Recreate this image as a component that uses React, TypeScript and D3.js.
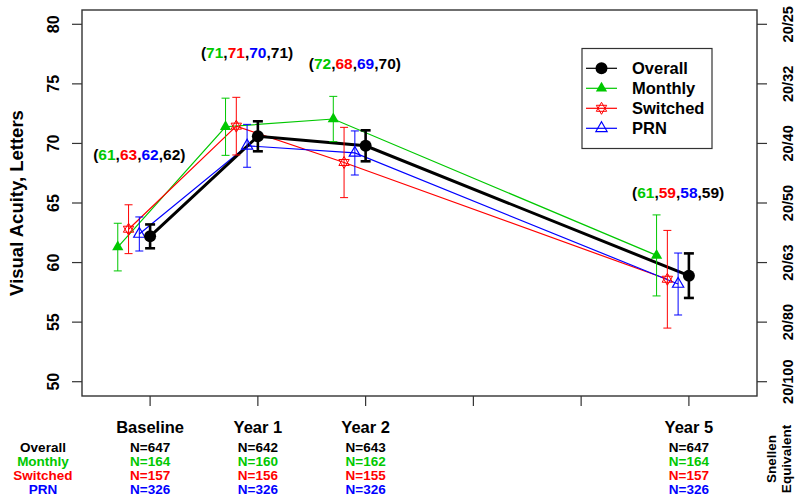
import * as d3 from 'd3';

const W = 800;
const H = 501;
const FONT = '"Liberation Sans", Arial, Helvetica, sans-serif';

// plot box in page pixels
const BOX = { left: 82, right: 757, top: 10, bottom: 396 };

// ---- data ----
const timePoints = [0, 1, 2, 5];
const timeLabels = ['Baseline', 'Year 1', 'Year 2', 'Year 5'];
const xTicks = [0, 1, 2, 3, 4, 5];
const yTicks = [50, 55, 60, 65, 70, 75, 80];
const snellenLabels = ['20/100', '20/80', '20/63', '20/50', '20/40', '20/32', '20/25'];

const groupNames = ['Overall', 'Monthly', 'Switched', 'PRN'];

const overallMean = [62.2, 70.6, 69.8, 58.9];
const overallErr = [1.0, 1.26, 1.3, 1.87];
const monthlyMean = [61.3, 71.4, 72.05, 60.6];
const monthlyErr = [2.0, 2.4, 1.9, 3.4];
const switchedMean = [62.8, 71.45, 68.4, 58.6];
const switchedErr = [2.05, 2.42, 2.95, 4.1];
const prnMean = [62.4, 69.8, 69.2, 58.2];
const prnErr = [1.43, 1.8, 1.85, 2.6];

const overallN = [647, 642, 643, 647];
const monthlyN = [164, 160, 162, 164];
const switchedN = [157, 156, 155, 157];
const prnN = [326, 326, 326, 326];

// height (in letters) of the "(m,s,p,o)" label above each time point
const annotLevel = [69.1, 77.6, 76.7, 65.9];

// ---- styling per group ----
const colors = { Overall: '#000000', Monthly: '#00C800', Switched: '#FF0000', PRN: '#0000FF' };
const dodge = { Overall: 0, Monthly: -0.3, Switched: -0.2, PRN: -0.1 };

type Series = { name: string; mean: number[]; err: number[]; n: number[] };
const series: Series[] = [
  { name: 'Overall', mean: overallMean, err: overallErr, n: overallN },
  { name: 'Monthly', mean: monthlyMean, err: monthlyErr, n: monthlyN },
  { name: 'Switched', mean: switchedMean, err: switchedErr, n: switchedN },
  { name: 'PRN', mean: prnMean, err: prnErr, n: prnN },
];

const x = d3.scaleLinear().domain([-0.632, 5.632]).range([BOX.left, BOX.right]);
const y = d3.scaleLinear().domain([48.8, 81.2]).range([BOX.bottom, BOX.top]);

const Marker = ({ name, cx, cy }: { name: string; cx: number; cy: number }) => {
  const c = colors[name as keyof typeof colors];
  if (name === 'Overall') return <circle cx={cx} cy={cy} r={6} fill={c} />;
  const tri = (r: number, dir: number) =>
    d3.line()([
      [cx, cy - dir * r],
      [cx + 0.866 * r, cy + dir * r * 0.5],
      [cx - 0.866 * r, cy + dir * r * 0.5],
    ]) + 'Z';
  if (name === 'Monthly') return <path d={tri(6.5, 1)} fill={c} />;
  if (name === 'PRN') return <path d={tri(6.5, 1)} fill="none" stroke={c} strokeWidth={1.2} />;
  return (
    <g fill="none" stroke={c} strokeWidth={1}>
      <path d={tri(6, 1)} />
      <path d={tri(6, -1)} />
    </g>
  );
};

const drawOrder = ['Monthly', 'Switched', 'PRN', 'Overall'];

export default function App() {
  const line = d3.line<[number, number]>();
  const ordered = drawOrder.map(n => series.find(s => s.name === n)!);

  return (
    <div style={{ position: 'absolute', left: 0, top: 0 }}>
      <svg width={W} height={H} style={{ display: 'block', background: '#fff' }} fontFamily={FONT} fontWeight="bold">
        {/* series lines */}
        {ordered.map(s => {
          const pts = timePoints.map((t, i) => [x(t + dodge[s.name as keyof typeof dodge]), y(s.mean[i])] as [number, number]);
          const thick = s.name === 'Overall';
          return (
            <path
              key={'l' + s.name}
              d={line(pts) || ''}
              fill="none"
              stroke={colors[s.name as keyof typeof colors]}
              strokeWidth={thick ? 3 : 1.2}
            />
          );
        })}
        {/* error bars + markers */}
        {ordered.map(s => {
          const c = colors[s.name as keyof typeof colors];
          const thick = s.name === 'Overall';
          const cap = thick ? 5 : 4;
          return (
            <g key={'e' + s.name} stroke={c} strokeWidth={thick ? 2.6 : 1}>
              {timePoints.map((t, i) => {
                const cx = x(t + dodge[s.name as keyof typeof dodge]);
                const y0 = y(s.mean[i] - s.err[i]);
                const y1 = y(s.mean[i] + s.err[i]);
                return (
                  <g key={i}>
                    <line x1={cx} x2={cx} y1={y0} y2={y1} />
                    <line x1={cx - cap} x2={cx + cap} y1={y0} y2={y0} />
                    <line x1={cx - cap} x2={cx + cap} y1={y1} y2={y1} />
                    <g stroke="none">
                      <Marker name={s.name} cx={cx} cy={y(s.mean[i])} />
                    </g>
                  </g>
                );
              })}
            </g>
          );
        })}

        {/* mean annotations */}
        {timePoints.map((t, i) => (
          <text
            key={'a' + i}
            x={x(t - 0.1)}
            y={y(annotLevel[i])}
            dy="0.36em"
            textAnchor="middle"
            fontSize={15.5}
          >
            <tspan fill="#000">(</tspan>
            <tspan fill={colors.Monthly}>{Math.round(monthlyMean[i])}</tspan>
            <tspan fill="#000">,</tspan>
            <tspan fill={colors.Switched}>{Math.round(switchedMean[i])}</tspan>
            <tspan fill="#000">,</tspan>
            <tspan fill={colors.PRN}>{Math.round(prnMean[i])}</tspan>
            <tspan fill="#000">,{Math.round(overallMean[i])})</tspan>
          </text>
        ))}

        {/* frame */}
        <rect
          x={BOX.left}
          y={BOX.top}
          width={BOX.right - BOX.left}
          height={BOX.bottom - BOX.top}
          fill="none"
          stroke="#333"
          strokeWidth={1.4}
        />

        {/* left axis */}
        {yTicks.map(v => (
          <g key={'yl' + v}>
            <line x1={BOX.left - 10} x2={BOX.left} y1={y(v)} y2={y(v)} stroke="#333" strokeWidth={1.2} />
            <text
              transform={`translate(${53},${y(v)}) rotate(-90)`}
              textAnchor="middle"
              dy="0.36em"
              fontSize={16}
            >
              {v}
            </text>
          </g>
        ))}
        <text
          transform={`translate(${16},${(BOX.top + BOX.bottom) / 2}) rotate(-90)`}
          textAnchor="middle"
          dy="0.36em"
          fontSize={18.5}
        >
          Visual Acuity, Letters
        </text>

        {/* right axis: Snellen equivalent */}
        {yTicks.map((v, i) => (
          <g key={'yr' + v}>
            <line x1={BOX.right} x2={BOX.right + 10} y1={y(v)} y2={y(v)} stroke="#333" strokeWidth={1.2} />
            <text
              transform={`translate(${788},${y(v)}) rotate(-90)`}
              textAnchor="middle"
              dy="0.36em"
              fontSize={14.5}
            >
              {snellenLabels[i]}
            </text>
          </g>
        ))}
        <g fontSize={13.5}>
          <text transform={`translate(${771},${459}) rotate(-90)`} textAnchor="middle" dy="0.36em">
            Snellen
          </text>
          <text transform={`translate(${786},${459}) rotate(-90)`} textAnchor="middle" dy="0.36em">
            Equivalent
          </text>
        </g>

        {/* bottom axis */}
        {xTicks.map(t => (
          <line key={'xt' + t} x1={x(t)} x2={x(t)} y1={BOX.bottom} y2={BOX.bottom + 10} stroke="#333" strokeWidth={1.2} />
        ))}
        {timePoints.map((t, i) => (
          <text key={'xl' + t} x={x(t)} y={427.5} dy="0.36em" textAnchor="middle" fontSize={16.5}>
            {timeLabels[i]}
          </text>
        ))}

        {/* N table */}
        {series.map((s, r) => {
          const rowY = 446.7 + r * 14.2;
          const c = colors[s.name as keyof typeof colors];
          return (
            <g key={'n' + s.name} fill={c} fontSize={13.5}>
              <text x={43} y={rowY} dy="0.36em" textAnchor="middle">
                {groupNames[r]}
              </text>
              {timePoints.map((t, i) => (
                <text key={i} x={x(t)} y={rowY} dy="0.36em" textAnchor="middle">
                  N={s.n[i]}
                </text>
              ))}
            </g>
          );
        })}

        {/* legend */}
        <g>
          <rect x={582} y={48.5} width={130} height={100} fill="#fff" stroke="#333" strokeWidth={1.2} />
          {series.map((s, i) => {
            const ly = 68.3 + i * 20;
            const c = colors[s.name as keyof typeof colors];
            return (
              <g key={'lg' + s.name}>
                <line x1={586} x2={617} y1={ly} y2={ly} stroke={c} strokeWidth={1.2} />
                <Marker name={s.name} cx={601.5} cy={ly} />
                <text x={632} y={ly} dy="0.36em" fontSize={16.5}>
                  {s.name}
                </text>
              </g>
            );
          })}
        </g>
      </svg>
    </div>
  );
}
